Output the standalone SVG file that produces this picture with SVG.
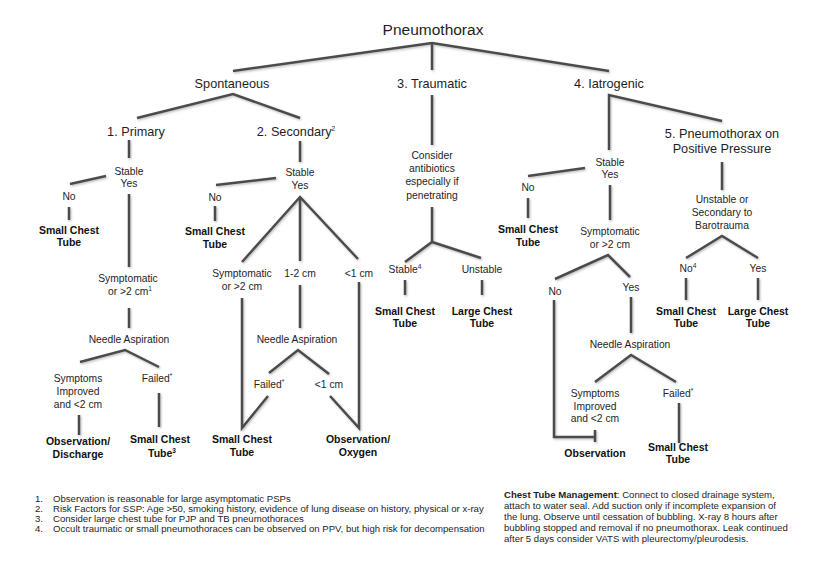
<svg xmlns="http://www.w3.org/2000/svg" width="826" height="563" viewBox="0 0 826 563">
<defs>
<filter id="sh" x="-10%" y="-10%" width="120%" height="120%">
<feDropShadow dx="1" dy="1.2" stdDeviation="0.9" flood-color="#888" flood-opacity="0.6"/>
</filter>
<style>
text{font-family:"Liberation Sans",Arial,sans-serif;fill:#1e1e1e;text-anchor:middle}
.t{font-size:15.5px}
.h{font-size:12.7px}
.s{font-size:10.3px}
.b{font-size:10.5px;font-weight:bold;fill:#111}
.f{font-size:9.6px;text-anchor:start}
.fb{font-weight:bold}
.sup{font-size:6.5px}
#conn path{fill:none;stroke:#4b4b4b;stroke-width:2.5;stroke-linejoin:miter}
</style>
</defs>
<rect width="826" height="563" fill="#fff"/>
<g id="conn" filter="url(#sh)">
<path d="M233,71 L432,43 L609,71 M432,43 L432,70"/>
<path d="M137,118 L233,94 L300,118"/>
<path d="M129,140 L129,158"/>
<path d="M70,184 L106,176"/>
<path d="M69,207 L69,220"/>
<path d="M129,194 L129,267"/>
<path d="M129,308 L129,328"/>
<path d="M80,362 L125,350 L159,367"/>
<path d="M79,415 L79,435"/>
<path d="M159,393 L159,427"/>
<path d="M300,141 L300,162"/>
<path d="M216,185 L276,178"/>
<path d="M215,206 L215,221"/>
<path d="M242,262 L300,197 L358,259 M300,197 L300,261"/>
<path d="M242,298 L242,428 L268,396"/>
<path d="M300,285 L300,328"/>
<path d="M269,373 L298,350 L329,374"/>
<path d="M330,396 L359,428 L359,282"/>
<path d="M432,95 L432,145"/>
<path d="M405,262 L432,242 L481,258 M432,207 L432,242"/>
<path d="M405,280 L405,295 M482,280 L482,295"/>
<path d="M609,150 L609,95 L722,121"/>
<path d="M528,176 L585,168"/>
<path d="M528,198 L528,218"/>
<path d="M610,185 L610,220"/>
<path d="M555,279 L608,255 L630,277"/>
<path d="M554,300 L554,437 L595,437 M595,430 L595,442"/>
<path d="M631,297 L631,333"/>
<path d="M595,382 L631,355 L676,382"/>
<path d="M679,403 L679,443"/>
<path d="M722,162 L722,190"/>
<path d="M686,258 L722,236 L758,258"/>
<path d="M686,278 L686,300 M758,278 L758,300"/>
</g>
<g id="root"><text class="t" x="433" y="35">Pneumothorax</text></g>
<g id="spontaneous"><text class="h" x="232" y="88">Spontaneous</text></g>
<g id="traumatic"><text class="h" x="432" y="88">3. Traumatic</text></g>
<g id="iatrogenic"><text class="h" x="609" y="88">4. Iatrogenic</text></g>
<g id="primary"><text class="h" x="136" y="136">1. Primary</text></g>
<g id="secondary"><text class="h" x="296" y="136">2. Secondary<tspan class="sup" dy="-5">2</tspan></text></g>
<g id="ppv"><text class="h" x="722" y="138">5. Pneumothorax on</text><text class="h" x="722" y="153">Positive Pressure</text></g>

<g id="p-stable"><text class="s" x="129" y="175">Stable</text><text class="s" x="129" y="187">Yes</text></g>
<g id="p-no"><text class="s" x="69" y="200">No</text></g>
<g id="p-sct"><text class="b" x="69" y="234">Small Chest</text><text class="b" x="69" y="246">Tube</text></g>
<g id="p-symp"><text class="s" x="128" y="282">Symptomatic</text><text class="s" x="130" y="295">or &gt;2 cm<tspan class="sup" dy="-4">1</tspan></text></g>
<g id="p-na"><text class="s" x="129" y="343">Needle Aspiration</text></g>
<g id="p-improved"><text class="s" x="78" y="382">Symptoms</text><text class="s" x="78" y="395">Improved</text><text class="s" x="78" y="408">and &lt;2 cm</text></g>
<g id="p-failed"><text class="s" x="157" y="382">Failed<tspan class="sup" dy="-4">*</tspan></text></g>
<g id="p-obs"><text class="b" x="78" y="445">Observation/</text><text class="b" x="78" y="458">Discharge</text></g>
<g id="p-sct2"><text class="b" x="160" y="443">Small Chest</text><text class="b" x="162" y="457">Tube<tspan class="sup" dy="-4">3</tspan></text></g>

<g id="s-stable"><text class="s" x="300" y="176">Stable</text><text class="s" x="300" y="189">Yes</text></g>
<g id="s-no"><text class="s" x="215" y="201">No</text></g>
<g id="s-sct"><text class="b" x="215" y="235">Small Chest</text><text class="b" x="215" y="248">Tube</text></g>
<g id="s-symp"><text class="s" x="242" y="277">Symptomatic</text><text class="s" x="242" y="290">or &gt;2 cm</text></g>
<g id="s-12"><text class="s" x="300" y="277">1-2 cm</text></g>
<g id="s-lt1"><text class="s" x="359" y="277">&lt;1 cm</text></g>
<g id="s-na"><text class="s" x="297" y="343">Needle Aspiration</text></g>
<g id="s-failed"><text class="s" x="269" y="388">Failed<tspan class="sup" dy="-4">*</tspan></text></g>
<g id="s-lt1b"><text class="s" x="329" y="388">&lt;1 cm</text></g>
<g id="s-sct2"><text class="b" x="242" y="443">Small Chest</text><text class="b" x="242" y="456">Tube</text></g>
<g id="s-obs"><text class="b" x="358" y="443">Observation/</text><text class="b" x="358" y="456">Oxygen</text></g>

<g id="t-abx"><text class="s" x="432" y="159">Consider</text><text class="s" x="432" y="172">antibiotics</text><text class="s" x="432" y="185">especially if</text><text class="s" x="432" y="199">penetrating</text></g>
<g id="t-stable"><text class="s" x="405" y="273">Stable<tspan class="sup" dy="-4">4</tspan></text></g>
<g id="t-unstable"><text class="s" x="482" y="273">Unstable</text></g>
<g id="t-sct"><text class="b" x="405" y="315">Small Chest</text><text class="b" x="405" y="327">Tube</text></g>
<g id="t-lct"><text class="b" x="482" y="315">Large Chest</text><text class="b" x="482" y="327">Tube</text></g>

<g id="i-stable"><text class="s" x="610" y="166">Stable</text><text class="s" x="610" y="178">Yes</text></g>
<g id="i-no"><text class="s" x="528" y="191">No</text></g>
<g id="i-sct"><text class="b" x="528" y="233">Small Chest</text><text class="b" x="528" y="246">Tube</text></g>
<g id="i-symp"><text class="s" x="610" y="235">Symptomatic</text><text class="s" x="610" y="248">or &gt;2 cm</text></g>
<g id="i-no2"><text class="s" x="555" y="295">No</text></g>
<g id="i-yes"><text class="s" x="631" y="291">Yes</text></g>
<g id="i-na"><text class="s" x="630" y="348">Needle Aspiration</text></g>
<g id="i-improved"><text class="s" x="595" y="397">Symptoms</text><text class="s" x="595" y="410">Improved</text><text class="s" x="595" y="422">and &lt;2 cm</text></g>
<g id="i-failed"><text class="s" x="678" y="397">Failed<tspan class="sup" dy="-4">*</tspan></text></g>
<g id="i-obs"><text class="b" x="595" y="457">Observation</text></g>
<g id="i-sct2"><text class="b" x="678" y="451">Small Chest</text><text class="b" x="678" y="463">Tube</text></g>

<g id="v-unstable"><text class="s" x="722" y="203">Unstable or</text><text class="s" x="722" y="216">Secondary to</text><text class="s" x="722" y="229">Barotrauma</text></g>
<g id="v-no"><text class="s" x="688" y="272">No<tspan class="sup" dy="-4">4</tspan></text></g>
<g id="v-yes"><text class="s" x="758" y="272">Yes</text></g>
<g id="v-sct"><text class="b" x="686" y="315">Small Chest</text><text class="b" x="686" y="327">Tube</text></g>
<g id="v-lct"><text class="b" x="758" y="315">Large Chest</text><text class="b" x="758" y="327">Tube</text></g>

<g id="footnotes">
<text class="f" x="35" y="502">1.</text><text class="f" x="53" y="502">Observation is reasonable for large asymptomatic PSPs</text>
<text class="f" x="35" y="512">2.</text><text class="f" x="53" y="512">Risk Factors for SSP: Age &gt;50, smoking history, evidence of lung disease on history, physical or x-ray</text>
<text class="f" x="35" y="522">3.</text><text class="f" x="53" y="522">Consider large chest tube for PJP and TB pneumothoraces</text>
<text class="f" x="35" y="532">4.</text><text class="f" x="53" y="532">Occult traumatic or small pneumothoraces can be observed on PPV, but high risk for decompensation</text>
</g>
<g id="chest-tube-management">
<text class="f" x="504" y="498"><tspan class="fb">Chest Tube Management</tspan>: Connect to closed drainage system,</text>
<text class="f" x="504" y="509">attach to water seal. Add suction only if incomplete expansion of</text>
<text class="f" x="504" y="520">the lung. Observe until cessation of bubbling. X-ray 8 hours after</text>
<text class="f" x="504" y="531">bubbling stopped and removal if no pneumothorax. Leak continued</text>
<text class="f" x="504" y="542">after 5 days consider VATS with pleurectomy/pleurodesis.</text>
</g>
</svg>
